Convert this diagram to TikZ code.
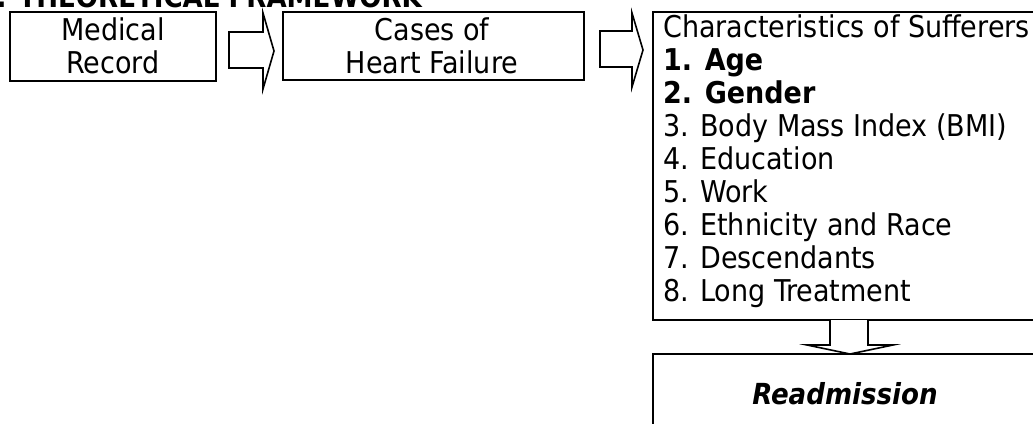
\documentclass[tikz,border=0pt]{standalone}
\usepackage{fontspec}
\setmainfont{DejaVu Sans Condensed}
\begin{document}
\begin{tikzpicture}[x=1pt,y=-1pt,
  every node/.style={inner sep=0pt, font=\fontsize{30}{33}\selectfont},
  frame/.style={draw, line width=2pt, inner sep=0pt},
  lbl/.style={anchor=base, inner sep=0pt},
  item/.style={anchor=base west, inner sep=0pt},
  bolditem/.style={item, font=\fontsize{30}{33}\selectfont\bfseries},
  blockarrow/.style={draw, line width=1.6pt, fill=white, line join=miter}]
\useasboundingbox (0,0) rectangle (1033,423);
\clip (0,0) rectangle (1033,423);
% title (cut off at top)
\node[anchor=base east, font=\fontsize{29}{33}\selectfont\bfseries] (title) at (422,7) {2. THEORETICAL FRAMEWORK};
% boxes
\node[frame, minimum width=206pt, minimum height=69pt] (rec) at (113,46.5) {};
\node[frame, minimum width=301pt, minimum height=68pt] (cases) at (433.5,46) {};
\node[frame, minimum width=392pt, minimum height=308pt] (chars) at (849,166) {};
\node[frame, minimum width=392pt, minimum height=86pt] (readm) at (849,397) {};
% texts
\node[lbl] (t1a) at (113,40) {Medical};
\node[lbl] (t1b) at (113,73) {Record};
\node[lbl] (t2a) at (432,40) {Cases of};
\node[lbl] (t2b) at (432,73) {Heart Failure};
\node[item] (h) at (663,37) {Characteristics of Sufferers};
\node[bolditem] (i1) at (663,70) {1. Age};
\node[bolditem] (i2) at (663,103) {2. Gender};
\node[item] (i3) at (663,136) {3. Body Mass Index (BMI)};
\node[item] (i4) at (663,169) {4. Education};
\node[item] (i5) at (663,202) {5. Work};
\node[item] (i6) at (663,235) {6. Ethnicity and Race};
\node[item] (i7) at (663,268) {7. Descendants};
\node[item] (i8) at (663,301) {8. Long Treatment};
\node[lbl, font=\fontsize{29}{33}\selectfont\bfseries\itshape] (rt) at (845,404) {Readmission};
% block arrows
\draw[blockarrow] (229,32) -- (263,32) -- (263,13) -- (274,51) -- (263,89) -- (263,68) -- (229,68) -- cycle;
\draw[blockarrow] (600,31) -- (632,31) -- (632,13) -- (643,50) -- (632,87) -- (632,67) -- (600,67) -- cycle;
\draw[blockarrow] (830,320) -- (830,345) -- (807,345) -- (850,354) -- (893,345) -- (868,345) -- (868,320);
\end{tikzpicture}
\end{document}
